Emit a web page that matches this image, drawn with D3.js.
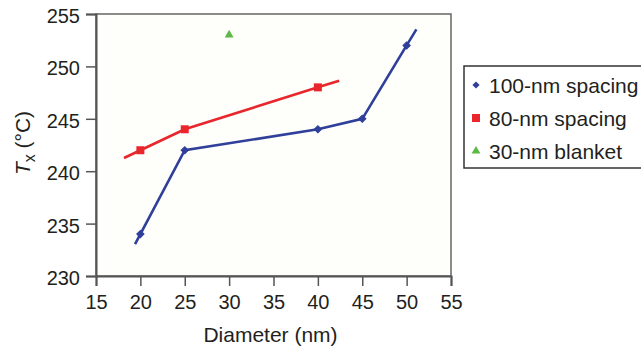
<!DOCTYPE html>
<html>
<head>
<meta charset="utf-8">
<script src="https://cdn.jsdelivr.net/npm/d3@7"></script>
<style>
  body { margin: 0; background: #fff; }
  svg { display: block; font-family: "Liberation Sans", Arial, sans-serif; }
</style>
</head>
<body>
<script>
// data
var diameters100 = [20, 25, 40, 45, 50];
var tx100 = [234, 242, 244, 245, 252];
var diameters80 = [20, 25, 40];
var tx80 = [242, 244, 248];
var diametersBlanket = [30];
var txBlanket = [253];
// how far (nm) each trend line runs past its first / last point
var ext100 = [0.6, 1.1];
var ext80 = [1.85, 2.4];
var xTicks = [15, 20, 25, 30, 35, 40, 45, 50, 55];
var yTicks = [230, 235, 240, 245, 250, 255];
var seriesNames = ["100-nm spacing", "80-nm spacing", "30-nm blanket"];

var W = 641, H = 349;
var margin = { top: 14, right: 190, bottom: 73, left: 96 },
    width = W - margin.left - margin.right,
    height = H - margin.top - margin.bottom;

var blue = "#2f3f9a", red = "#e8262b", green = "#5cb947";
var ink = "#231f20";

var x = d3.scaleLinear().domain([15, 55]).range([0, width]);
var y = d3.scaleLinear().domain([230, 255]).range([height, 0]);

var svg = d3.select("body").append("svg")
    .attr("width", W)
    .attr("height", H);

var g = svg.append("g")
    .attr("transform", "translate(" + margin.left + "," + margin.top + ")");

// plot background + frame
g.append("rect")
    .attr("width", width).attr("height", height)
    .attr("fill", "#fefefb")
    .attr("stroke", "#666").attr("stroke-width", 1.5);

var xAxis = d3.axisBottom(x).tickValues(xTicks).tickSize(10).tickPadding(9);
var yAxis = d3.axisLeft(y).tickValues(yTicks).tickSize(10).tickPadding(6);

function styleAxis(sel) {
    sel.select(".domain").attr("stroke", "#555").attr("stroke-width", 2);
    sel.selectAll(".tick line").attr("stroke", "#555").attr("stroke-width", 1.5);
    sel.selectAll(".tick text").attr("fill", ink).style("font-size", "20px")
        .style("font-family", "'Liberation Sans', Arial, sans-serif");
}

g.append("g").attr("transform", "translate(0," + height + ")").call(xAxis).call(styleAxis);
g.append("g").call(yAxis).call(styleAxis)
    .selectAll(".tick text").attr("dy", "0.42em");

// build trend line points: data plus extrapolated ends
function extended(xs, ys, ext) {
    var pts = xs.map(function(d, i) { return [d, ys[i]]; });
    var n = pts.length;
    var s0 = (pts[1][1] - pts[0][1]) / (pts[1][0] - pts[0][0]);
    var s1 = (pts[n - 1][1] - pts[n - 2][1]) / (pts[n - 1][0] - pts[n - 2][0]);
    var first = [pts[0][0] - ext[0], pts[0][1] - s0 * ext[0]];
    var last = [pts[n - 1][0] + ext[1], pts[n - 1][1] + s1 * ext[1]];
    return [first].concat(pts, [last]);
}

var line = d3.line()
    .x(function(d) { return x(d[0]); })
    .y(function(d) { return y(d[1]); });

g.append("path")
    .attr("d", line(extended(diameters80, tx80, ext80)))
    .attr("fill", "none").attr("stroke", red).attr("stroke-width", 2.6);

g.append("path")
    .attr("d", line(extended(diameters100, tx100, ext100)))
    .attr("fill", "none").attr("stroke", blue).attr("stroke-width", 2.6);

// diamond = square turned 45deg (rotation added in the transforms)
var symDiamond = d3.symbol().type(d3.symbolSquare).size(26);
var symSquare = d3.symbol().type(d3.symbolSquare).size(64);
var symTriangle = d3.symbol().type(d3.symbolTriangle).size(34);

g.selectAll(".m100").data(diameters100).enter().append("path")
    .attr("class", "m100")
    .attr("d", symDiamond)
    .attr("transform", function(d, i) { return "translate(" + x(d) + "," + y(tx100[i]) + ") rotate(45)"; })
    .attr("fill", blue).attr("stroke", blue).attr("stroke-width", 1);

g.selectAll(".m80").data(diameters80).enter().append("path")
    .attr("class", "m80")
    .attr("d", symSquare)
    .attr("transform", function(d, i) { return "translate(" + x(d) + "," + y(tx80[i]) + ")"; })
    .attr("fill", red);

g.selectAll(".mb").data(diametersBlanket).enter().append("path")
    .attr("class", "mb")
    .attr("d", symTriangle)
    .attr("transform", function(d, i) { return "translate(" + x(d) + "," + y(txBlanket[i]) + ")"; })
    .attr("fill", green);

// axis titles
svg.append("text")
    .attr("x", margin.left + width / 2 - 3)
    .attr("y", 342)
    .attr("text-anchor", "middle")
    .attr("fill", ink)
    .style("font-size", "21px")
    .text("Diameter (nm)");

var yt = svg.append("text")
    .attr("transform", "translate(30," + (margin.top + height / 2 - 2) + ") rotate(-90)")
    .attr("text-anchor", "middle")
    .attr("fill", ink)
    .style("font-size", "21px");
yt.append("tspan").style("font-style", "italic").text("T");
yt.append("tspan").attr("dy", 5).style("font-size", "16px").text("x");
yt.append("tspan").attr("dy", -5).text(" (°C)");

// legend
var legend = svg.append("g").attr("transform", "translate(464,66)");
legend.append("rect")
    .attr("width", 200).attr("height", 102)
    .attr("fill", "#fff").attr("stroke", "#333").attr("stroke-width", 1.5);

var legSyms = [
    { sym: symDiamond, color: blue, rot: 45 },
    { sym: symSquare, color: red, rot: 0 },
    { sym: symTriangle, color: green, rot: 0 }
];
var item = legend.selectAll(".item").data(seriesNames).enter().append("g")
    .attr("class", "item")
    .attr("transform", function(d, i) { return "translate(0," + (19 + i * 33) + ")"; });
item.append("path")
    .attr("d", function(d, i) { return legSyms[i].sym(); })
    .attr("transform", function(d, i) { return "translate(12,0) rotate(" + legSyms[i].rot + ")"; })
    .attr("fill", function(d, i) { return legSyms[i].color; });
item.append("text")
    .attr("x", 25).attr("dy", "0.36em")
    .attr("fill", ink)
    .style("font-size", "21px")
    .text(function(d) { return d; });
</script>
</body>
</html>
